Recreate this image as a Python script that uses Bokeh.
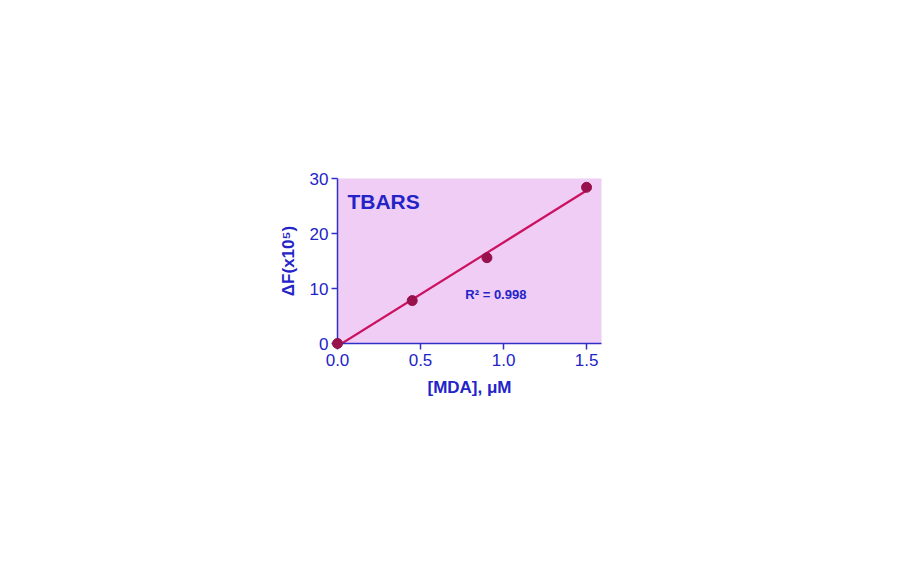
import numpy as np
from bokeh.plotting import figure
from bokeh.models import Range1d, Label, FixedTicker, CustomJSTickFormatter
from bokeh.embed import file_html
from bokeh.resources import INLINE

# data
mda_um = [0.0, 0.45, 0.9, 1.5]
delta_f = [0.0, 7.8, 15.6, 28.4]
x_ticks = [0.0, 0.5, 1.0, 1.5]
y_ticks = [0, 10, 20, 30]
X_MAX = 1.59
Y_MAX = 30
r2_text = "R\u00b2 = 0.998"

FONT = "Liberation Sans"
BLUE = "#2323c8"
AXIS_BLUE = "#3030c8"
PINK = "#efcdf5"
LINE = "#cc1160"
MARK = "#98104c"

p = figure(width=896, height=546, output_backend="svg", toolbar_location=None,
           x_range=Range1d(0, X_MAX), y_range=Range1d(0, Y_MAX),
           min_border_left=337, min_border_right=295,
           min_border_top=178, min_border_bottom=203)
p.outline_line_color = None
p.background_fill_color = PINK
p.border_fill_color = "white"
p.xgrid.visible = False
p.ygrid.visible = False

# linear fit
slope, intercept = np.polyfit(mda_um, delta_f, 1)
x0 = -intercept / slope
xs = [x0, max(mda_um)]
ys = [slope * v + intercept for v in xs]
p.line(xs, ys, line_color=LINE, line_width=2.2)
p.scatter(mda_um, delta_f, size=10, fill_color=MARK, line_color=MARK, level="overlay")

for ax in (p.xaxis[0], p.yaxis[0]):
    ax.axis_line_color = AXIS_BLUE
    ax.axis_line_width = 1.5
    ax.major_tick_line_color = AXIS_BLUE
    ax.major_tick_line_width = 1.5
    ax.major_tick_out = 6
    ax.major_tick_in = 0
    ax.minor_tick_line_color = None
    ax.major_label_text_color = BLUE
    ax.major_label_text_font = FONT
    ax.major_label_text_font_size = "17px"
    ax.axis_label_text_color = BLUE
    ax.axis_label_text_font = FONT
    ax.axis_label_text_font_style = "bold"
    ax.axis_label_text_font_size = "17px"

p.xaxis[0].ticker = FixedTicker(ticks=x_ticks)
p.yaxis[0].ticker = FixedTicker(ticks=y_ticks)
p.xaxis[0].formatter = CustomJSTickFormatter(code="return tick.toFixed(1);")
p.xaxis[0].major_label_standoff = 4
p.yaxis[0].major_label_standoff = 3
p.xaxis[0].axis_label = "[MDA], \u03bcM"
p.yaxis[0].axis_label = "\u0394F(x10\u2075)"
p.xaxis[0].axis_label_standoff = 9
p.yaxis[0].axis_label_standoff = 9

p.add_layout(Label(x=0.06, y=25.8, text="TBARS", text_font=FONT, text_font_style="bold",
                   text_font_size="21px", text_color=BLUE, text_baseline="middle"))
p.add_layout(Label(x=0.77, y=8.9, text=r2_text, text_font=FONT, text_font_style="bold",
                   text_font_size="13px", text_color=BLUE, text_baseline="middle"))

open("out.html", "w").write(file_html(p, INLINE))
